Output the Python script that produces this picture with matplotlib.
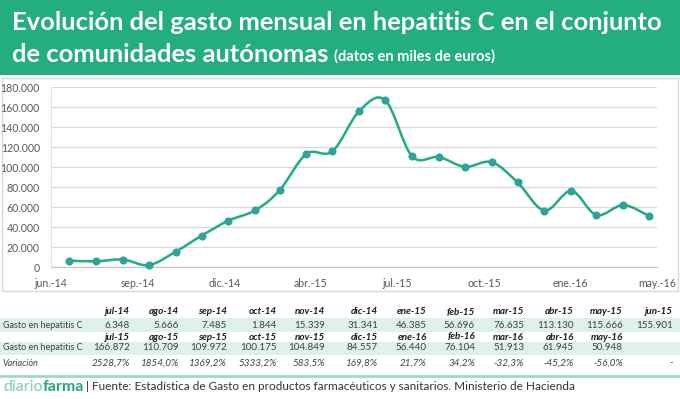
import datetime as dt
import numpy as np
import matplotlib
matplotlib.use("Agg")
import matplotlib.pyplot as plt
import matplotlib.dates as mdates
from matplotlib.path import Path
from matplotlib.patches import PathPatch, Rectangle
from matplotlib.lines import Line2D

# ---------------- data ----------------
months = ["jul-14", "ago-14", "sep-14", "oct-14", "nov-14", "dic-14", "ene-15", "feb-15",
          "mar-15", "abr-15", "may-15", "jun-15", "jul-15", "ago-15", "sep-15", "oct-15",
          "nov-15", "dic-15", "ene-16", "feb-16", "mar-16", "abr-16", "may-16"]
gasto = [6348, 5666, 7485, 1844, 15339, 31341, 46385, 56696, 76635, 113130, 115666, 155901,
         166872, 110709, 109972, 100175, 104849, 84557, 56440, 76104, 51913, 61945, 50948]
variacion = [2528.7, 1854.0, 1369.2, 5333.2, 583.5, 169.8, 21.7, 34.2, -32.3, -45.2, -56.0, None]
xtick_labels = ["jun.-14", "sep.-14", "dic.-14", "abr.-15", "jul.-15", "oct.-15", "ene.-16", "may.-16"]
yticks = [0, 20000, 40000, 60000, 80000, 100000, 120000, 140000, 160000, 180000]

W, H = 680, 399
fig = plt.figure(figsize=(W / 100, H / 100), dpi=100)
fig.patch.set_facecolor("white")

def fx(px):
    return px / W

def fy(py):
    return 1 - py / H

GREEN = "#23ad80"
LINE = "#1fae7c"
MARK = "#2ea39a"
FONT = "Lato"

# title band
fig.patches.append(Rectangle((0, fy(75)), 1, 75 / H, transform=fig.transFigure,
                             facecolor=GREEN, edgecolor="none", zorder=-10))
fig.text(fx(12), fy(22), "Evolución del gasto mensual en hepatitis C en el conjunto",
         color="white", fontsize=18.35, fontweight="bold", family=FONT, va="center", ha="left")
t2 = fig.text(fx(12), fy(54), "de comunidades autónomas", color="white", fontsize=18.35,
              fontweight="bold", family=FONT, va="center", ha="left")
fig.canvas.draw()
bb = t2.get_window_extent()
fig.text(bb.x1 / W + fx(5), fy(56), "(datos en miles de euros)", color="white", fontsize=10.5,
         fontweight="bold", family=FONT, va="center", ha="left")

# chart box
fig.patches.append(Rectangle((fx(2), fy(291)), fx(676), (291 - 78) / H, transform=fig.transFigure,
                             facecolor="white", edgecolor="#d9d9d9", linewidth=1, zorder=-10))

# axes
ax = fig.add_axes([fx(51), fy(267), fx(606), 180 / H])
ax.set_facecolor("none")
dates = []
for m in range(len(gasto)):
    y = 2014 + (6 + m) // 12
    mo = (6 + m) % 12 + 1
    dates.append(dt.date(y, mo, 1))
xs = mdates.date2num(dates)
ys = np.array(gasto, dtype=float)

x0 = mdates.date2num(dt.date(2014, 6, 10))
ax.set_xlim(x0, x0 + 700)
ax.set_ylim(0, 180000)
ax.set_xticks([x0 + 100 * k for k in range(len(xtick_labels))])
ax.set_xticklabels(xtick_labels)
ax.set_yticks(yticks)
ax.set_yticklabels([f"{v:,}".replace(",", ".") for v in yticks])
ax.tick_params(length=0, labelsize=7.6, labelcolor="#595959", pad=8)
for lab in ax.get_xticklabels() + ax.get_yticklabels():
    lab.set_family(FONT)
ax.grid(axis="y", color="#d9d9d9", linewidth=0.9)
ax.set_axisbelow(True)
for s in ["top", "right"]:
    ax.spines[s].set_visible(False)
ax.spines["left"].set_color("#e3e3e3")
ax.spines["bottom"].set_color("#c8c8c8")
ax.spines["left"].set_linewidth(0.8)
ax.spines["bottom"].set_linewidth(0.9)

# smoothed line (Excel-like Bezier)
pts = np.column_stack([xs, ys])
verts = [tuple(pts[0])]
codes = [Path.MOVETO]
n = len(pts)
for i in range(n - 1):
    p0 = pts[max(i - 1, 0)]
    p1 = pts[i]
    p2 = pts[i + 1]
    p3 = pts[min(i + 2, n - 1)]
    c1 = p1 + (p2 - p0) / 6.0
    c2 = p2 - (p3 - p1) / 6.0
    verts += [tuple(c1), tuple(c2), tuple(p2)]
    codes += [Path.CURVE4] * 3
ax.add_patch(PathPatch(Path(verts, codes), facecolor="none", edgecolor=LINE, linewidth=1.8,
                       zorder=3, clip_on=False))
ax.plot(xs, ys, linestyle="none", marker="o", markersize=4.8, color=MARK, zorder=4, clip_on=False)

# ---------------- table ----------------
col_right = [130, 179, 227, 277, 325, 378, 427, 475, 524, 574, 623, 673]
band_col = "#dff2ea"
TXT = "#404040"

def fmt_num(v):
    return f"{v:,}".replace(",", ".")

def fmt_var(v):
    if v is None:
        return "-"
    return f"{v:.1f}".replace(".", ",") + "%"

rows_y = {"h1": 312, "d1": 325, "h2": 337, "d2": 348, "v": 363}
for band_top, band_bot in [(318, 332), (342, 355)]:
    fig.patches.append(Rectangle((0, fy(band_bot)), 1, (band_bot - band_top) / H,
                                 transform=fig.transFigure, facecolor=band_col,
                                 edgecolor="none", zorder=-10))

fs = 7.1
fs_lab = 6.5
first = months[:12]
second = months[12:]
for j, m in enumerate(first):
    fig.text(fx(col_right[j]), fy(rows_y["h1"]), m, ha="right", va="center", fontsize=fs,
             fontweight="bold", style="italic", family=FONT, color="#1a1a1a")
    fig.text(fx(col_right[j]), fy(rows_y["d1"]), fmt_num(gasto[j]), ha="right", va="center",
             fontsize=fs, family=FONT, color=TXT)
for j, m in enumerate(second):
    fig.text(fx(col_right[j]), fy(rows_y["h2"]), m, ha="right", va="center", fontsize=fs,
             fontweight="bold", style="italic", family=FONT, color="#1a1a1a")
    fig.text(fx(col_right[j]), fy(rows_y["d2"]), fmt_num(gasto[12 + j]), ha="right", va="center",
             fontsize=fs, family=FONT, color=TXT)
for j, v in enumerate(variacion):
    fig.text(fx(col_right[j]), fy(rows_y["v"]), fmt_var(v), ha="right", va="center",
             fontsize=fs, style="italic", family=FONT, color=TXT)
fig.text(fx(3), fy(rows_y["d1"]), "Gasto en hepatitis C", ha="left", va="center",
         fontsize=fs_lab, family=FONT, color=TXT)
fig.text(fx(3), fy(rows_y["d2"]), "Gasto en hepatitis C", ha="left", va="center",
         fontsize=fs_lab, family=FONT, color=TXT)
fig.text(fx(3), fy(rows_y["v"]), "Variación", ha="left", va="center",
         fontsize=fs_lab, style="italic", family=FONT, color=TXT)

# ---------------- footer ----------------
fig.lines.append(Line2D([0, 1], [fy(376), fy(376)], transform=fig.transFigure,
                        color="#9fd9c2", linewidth=2))
td = fig.text(fx(3), fy(387), "diario", ha="left", va="center", fontsize=11.5,
              fontweight="normal", family=FONT, color="#7fcdaa")
fig.canvas.draw()
b = td.get_window_extent()
tf = fig.text(b.x1 / W, fy(387), "farma", ha="left", va="center", fontsize=11.5,
              fontweight="bold", family=FONT, color="#22a97b")
fig.canvas.draw()
b = tf.get_window_extent()
fig.text(b.x1 / W + fx(2), fy(387), "| Fuente: Estadística de Gasto en productos farmacéuticos y sanitarios. Ministerio de Hacienda",
         ha="left", va="center", fontsize=8.5, family=FONT, color="#333333")

fig.savefig("out.png", dpi=100, facecolor="white")
